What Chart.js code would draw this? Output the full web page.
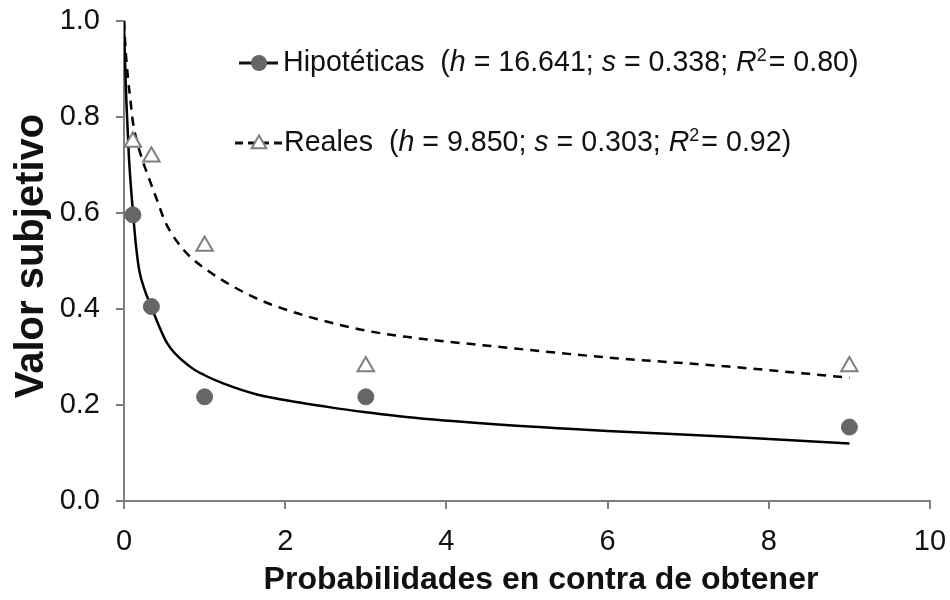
<!DOCTYPE html>
<html><head><meta charset="utf-8">
<script src="https://cdn.jsdelivr.net/npm/chart.js@4"></script>
<style>html,body{margin:0;padding:0;background:#fff}#wrap{width:950px;height:600px}</style>
</head><body><div id="wrap"><canvas id="c" width="950" height="600"></canvas></div>
<script>
const FONT = '"Liberation Sans", Arial, sans-serif';

// Tick labels
const xTicks = [0, 2, 4, 6, 8, 10];
const yTicks = [0.0, 0.2, 0.4, 0.6, 0.8, 1.0];

// Axis titles
const xTitle = 'Probabilidades en contra de obtener';
const yTitle = 'Valor subjetivo';

// Observed points (odds against)
const oddsX = [0.11, 0.34, 1, 3, 9];
const hipoteticasObs = [0.596, 0.405, 0.217, 0.217, 0.154];
const realesObs = [0.748, 0.717, 0.531, 0.28, 0.28];

// Fitted curves
const hipoteticasCurveX = [0, 0.01, 0.03, 0.06, 0.09, 0.115, 0.15, 0.19, 0.25, 0.337, 0.535, 0.82, 1.0, 1.23, 1.65, 2.18, 2.6, 3.0, 3.5, 4.6, 6.0, 7.5, 9.0];
const hipoteticasCurveY = [1.0, 0.93, 0.83, 0.72, 0.645, 0.594, 0.53, 0.48, 0.443, 0.405, 0.329, 0.28, 0.262, 0.245, 0.222, 0.205, 0.194, 0.185, 0.175, 0.16, 0.146, 0.134, 0.12];
const realesCurveX = [0, 0.02, 0.05, 0.08, 0.11, 0.16, 0.21, 0.31, 0.41, 0.51, 0.66, 0.82, 1.03, 1.28, 1.52, 1.77, 2.17, 2.6, 3.0, 3.5, 4.6, 6.0, 7.5, 9.0];
const realesCurveY = [1.0, 0.94, 0.88, 0.835, 0.79, 0.75, 0.72, 0.672, 0.627, 0.582, 0.54, 0.509, 0.481, 0.454, 0.432, 0.413, 0.39, 0.37, 0.355, 0.342, 0.322, 0.299, 0.28, 0.257];

// Legend texts
const legendHipo = [["Hipotéticas  (", false], ["h", true], [" = 16.641; ", false], ["s", true], [" = 0.338; ", false], ["R", true], ["2", "sup"], ["= 0.80)", false]];
const legendReal = [["Reales  (", false], ["h", true], [" = 9.850; ", false], ["s", true], [" = 0.303; ", false], ["R", true], ["2", "sup"], ["= 0.92)", false]];

const zip = (xs, ys) => xs.map((x, i) => ({x: x, y: ys[i]}));

const AXIS = '#7f7f7f';
const AREA = {left: 124, top: 21, right: 930, bottom: 501};

const areaPlugin = {
  id: 'fixArea',
  afterLayout(chart) {
    const {left: L, top: T, right: R, bottom: B} = AREA;
    const ca = chart.chartArea;
    ca.left = L; ca.top = T; ca.right = R; ca.bottom = B;
    ca.width = R - L; ca.height = B - T;
    const x = chart.scales.x, y = chart.scales.y;
    x.left = L; x.right = R; x.width = R - L; x.top = B; x.bottom = chart.height; x.height = chart.height - B;
    y.left = 0; y.right = L; y.width = L; y.top = T; y.bottom = B; y.height = B - T;
    x.configure(); y.configure();
  }
};

const legendPlugin = {
  id: 'customLegend',
  afterDraw(chart) {
    const ctx = chart.ctx;
    const fs = 28.6;
    function drawText(parts, x, y) {
      ctx.textBaseline = 'middle';
      ctx.textAlign = 'left';
      ctx.fillStyle = '#111';
      for (const [t, st] of parts) {
        if (st === 'sup') {
          ctx.font = `${Math.round(fs*0.62)}px ${FONT}`;
          ctx.fillText(t, x, y - 7);
        } else {
          ctx.font = `${st ? 'italic ' : ''}${fs}px ${FONT}`;
          ctx.fillText(t, x, y);
        }
        x += ctx.measureText(t).width + (st === 'sup' ? 2 : 0);
      }
    }
    ctx.save();
    // entry 1
    ctx.strokeStyle = '#111'; ctx.lineWidth = 3; ctx.setLineDash([]);
    ctx.beginPath(); ctx.moveTo(239, 63); ctx.lineTo(278, 63); ctx.stroke();
    ctx.fillStyle = '#666';
    ctx.beginPath(); ctx.arc(259, 63, 8, 0, Math.PI*2); ctx.fill();
    drawText(legendHipo, 283, 63);
    // entry 2
    ctx.strokeStyle = '#111'; ctx.lineWidth = 3; ctx.setLineDash([8, 5]);
    ctx.beginPath(); ctx.moveTo(235, 143); ctx.lineTo(282, 143); ctx.stroke();
    ctx.setLineDash([]);
    const r = 8.5, cx = 259, cy = 144;
    ctx.beginPath();
    for (let k = 0; k < 3; k++) {
      const a = k * 2*Math.PI/3;
      const px = cx + Math.sin(a)*r, py = cy - Math.cos(a)*r;
      k === 0 ? ctx.moveTo(px, py) : ctx.lineTo(px, py);
    }
    ctx.closePath();
    ctx.fillStyle = '#fff'; ctx.fill();
    ctx.strokeStyle = AXIS; ctx.lineWidth = 2; ctx.stroke();
    drawText(legendReal, 284, 143);

    // axis titles
    ctx.fillStyle = '#111';
    ctx.font = `bold 32px ${FONT}`;
    ctx.textAlign = 'center';
    ctx.textBaseline = 'alphabetic';
    ctx.fillText(xTitle, 541, 589);
    ctx.translate(43, 256);
    ctx.rotate(-Math.PI/2);
    ctx.font = `bold 40px ${FONT}`;
    ctx.fillText(yTitle, 0, 0);
    ctx.restore();
  }
};

new Chart(document.getElementById('c'), {
  type: 'scatter',
  data: {
    datasets: [
      {
        label: 'Hipotéticas obs',
        data: zip(oddsX, hipoteticasObs),
        pointStyle: 'circle', pointRadius: 8, pointHoverRadius: 8,
        backgroundColor: '#666', borderColor: '#666', borderWidth: 1,
        showLine: false
      },
      {
        label: 'Reales obs',
        data: zip(oddsX, realesObs),
        pointStyle: 'triangle', pointRadius: 9.5, pointHoverRadius: 9.5,
        backgroundColor: '#fff', borderColor: AXIS, borderWidth: 2,
        showLine: false
      },
      {
        label: 'Hipotéticas',
        data: zip(hipoteticasCurveX, hipoteticasCurveY),
        showLine: true, pointRadius: 0, borderColor: '#000', borderWidth: 2.5,
        cubicInterpolationMode: 'monotone', fill: false
      },
      {
        label: 'Reales',
        data: zip(realesCurveX, realesCurveY),
        showLine: true, pointRadius: 0, borderColor: '#000', borderWidth: 2.5,
        borderDash: [9, 7], cubicInterpolationMode: 'monotone', fill: false
      }
    ]
  },
  options: {
    responsive: false,
    animation: false,
    layout: {padding: {top: 21, right: 14, left: 0, bottom: 0}},
    plugins: {legend: {display: false}, tooltip: {enabled: false}},
    scales: {
      x: {
        type: 'linear', min: 0, max: 10,
        afterFit: s => { s.height = 99; },
        afterBuildTicks: s => { s.ticks = xTicks.map(v => ({value: v})); },
        ticks: {font: {family: FONT, size: 29}, color: '#111', padding: 16, maxRotation: 0,
                callback: v => String(v)},
        grid: {display: true, drawOnChartArea: false, drawTicks: true, tickLength: 8, color: AXIS, lineWidth: 2},
        border: {display: true, color: AXIS, width: 2},
        title: {display: false, text: xTitle}
      },
      y: {
        type: 'linear', min: 0, max: 1,
        afterFit: s => { s.width = 124; },
        afterBuildTicks: s => { s.ticks = yTicks.map(v => ({value: v})); },
        ticks: {font: {family: FONT, size: 29}, color: '#111', padding: 16,
                callback: v => Number(v).toFixed(1)},
        grid: {display: true, drawOnChartArea: false, drawTicks: true, tickLength: 8, color: AXIS, lineWidth: 2},
        border: {display: true, color: AXIS, width: 2},
        title: {display: false, text: yTitle}
      }
    }
  },
  plugins: [areaPlugin, legendPlugin]
});
</script>
</body></html>
